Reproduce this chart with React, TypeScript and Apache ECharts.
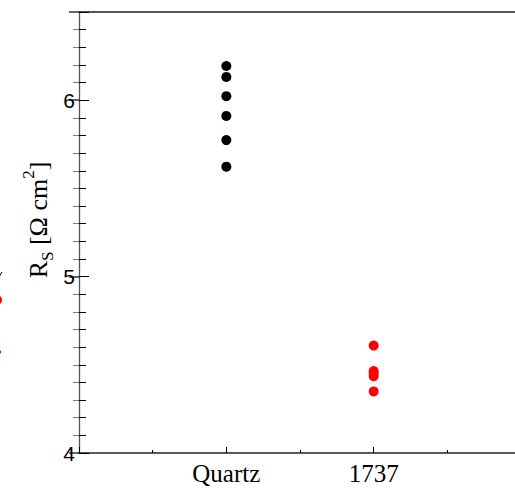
import React, { useEffect, useRef } from "react";
import * as echarts from "echarts";

const categories = ["Quartz", "1737"];
const categoryPositions = [2, 4];
const quartzValues = [6.194, 6.132, 6.023, 5.911, 5.774, 5.623];
const glassValues = [4.609, 4.465, 4.45, 4.435, 4.349];
const yTickLabels = [4, 5, 6];

export default function App() {
  const ref = useRef<HTMLDivElement>(null);
  useEffect(() => {
    if (!ref.current) return;
    const chart = echarts.init(ref.current, null, { renderer: "svg" });
    const labelMap: Record<number, string> = {};
    categoryPositions.forEach((p, i) => (labelMap[p] = categories[i]));
    chart.setOption({
      animation: false,
      backgroundColor: "#fff",
      grid: { left: 79, top: 12, width: 442, height: 441, containLabel: false, outerBoundsMode: "none" },
      xAxis: [
        {
          type: "value",
          min: 0,
          max: 6,
          interval: 2,
          position: "bottom",
          axisLine: { show: true, lineStyle: { color: "#222", width: 1.5 } },
          axisTick: { show: true, inside: true, length: 6, lineStyle: { color: "#000", width: 1 } },
          minorTick: { show: true, splitNumber: 2, length: 3, lineStyle: { color: "#000", width: 1 } },
          splitLine: { show: false },
          axisLabel: {
            margin: 8,
            fontFamily: "Liberation Serif",
            fontSize: 25,
            color: "#000",
            formatter: (v: number) => labelMap[v] || "",
          },
        },
        {
          type: "value",
          min: 0,
          max: 6,
          interval: 2,
          position: "top",
          axisLine: { show: true, lineStyle: { color: "#555", width: 2 } },
          axisTick: { show: false },
          axisLabel: { show: false },
          splitLine: { show: false },
        },
      ],
      yAxis: [
        {
          type: "value",
          min: 4,
          max: 6.5,
          interval: 1,
          position: "left",
          axisLine: { show: true, lineStyle: { color: "#000", width: 1.2 } },
          axisTick: { show: true, inside: true, length: 10, lineStyle: { color: "#000", width: 1 } },
          minorTick: { show: true, splitNumber: 10, length: 7, lineStyle: { color: "#000", width: 1 } },
          splitLine: { show: false },
          axisLabel: {
            margin: 4,
            fontFamily: "Liberation Sans",
            fontSize: 21,
            color: "#000",
            formatter: (v: number) => (yTickLabels.indexOf(v) >= 0 ? String(v) : ""),
          },
        },
        {
          type: "value",
          min: 4,
          max: 6.5,
          interval: 1,
          position: "right",
          axisLine: { show: true, lineStyle: { color: "#555", width: 1 } },
          axisTick: { show: true, inside: true, length: 10, lineStyle: { color: "#333", width: 1.5 } },
          minorTick: { show: true, splitNumber: 10, length: 6, lineStyle: { color: "#777", width: 1 } },
          splitLine: { show: false },
          axisLabel: { show: false },
        },
      ],
      series: [
        {
          type: "scatter",
          xAxisIndex: 0,
          yAxisIndex: 0,
          symbol: "circle",
          symbolSize: 10,
          itemStyle: { color: "#000", opacity: 1 },
          data: quartzValues.map((v) => [categoryPositions[0], v]),
        },
        {
          type: "scatter",
          xAxisIndex: 0,
          yAxisIndex: 0,
          symbol: "circle",
          symbolSize: 10,
          itemStyle: { color: "#ff0000", opacity: 1 },
          data: glassValues.map((v) => [categoryPositions[1], v]),
        },
      ],
      graphic: [
        {
          type: "text",
          x: 38,
          y: 220,
          rotation: Math.PI / 2,
          style: {
            text: "{r|R}{sub|S}{r| [Ω cm}{sup|2}{r|]}",
            align: "center",
            verticalAlign: "middle",
            fill: "#000",
            rich: {
              r: { fontFamily: "Liberation Serif", fontSize: 26, lineHeight: 36, verticalAlign: "middle", fill: "#000" },
              sub: { fontFamily: "Liberation Serif", fontSize: 17, lineHeight: 17, verticalAlign: "bottom", fill: "#000" },
              sup: { fontFamily: "Liberation Serif", fontSize: 17, lineHeight: 17, verticalAlign: "top", fill: "#000" },
            },
          },
        },
        { type: "circle", shape: { cx: -3, cy: 300, r: 5 }, style: { fill: "#ff0000" } },
        { type: "circle", shape: { cx: -1, cy: 352, r: 2 }, style: { fill: "#0000ff" } },
        { type: "line", shape: { x1: -1, y1: 277, x2: 2, y2: 272 }, style: { stroke: "#000", lineWidth: 1 } },
      ],
    });
    return () => chart.dispose();
  }, []);
  return <div ref={ref} style={{ width: 515, height: 488, position: "absolute", left: 0, top: 0 }} />;
}
